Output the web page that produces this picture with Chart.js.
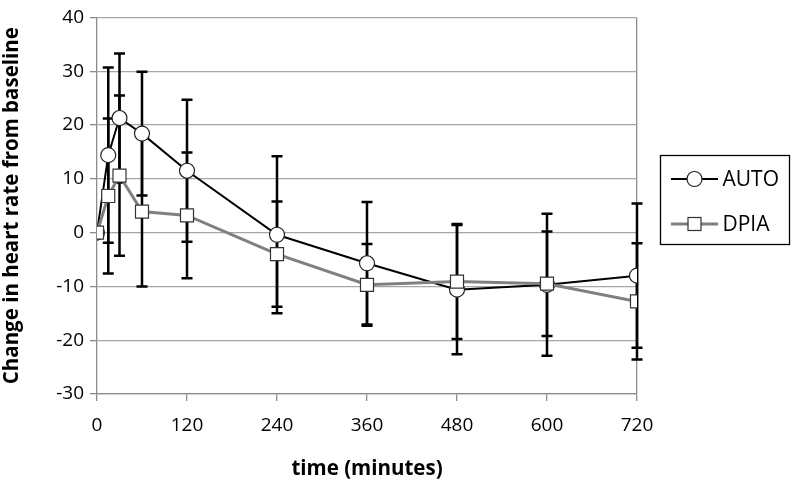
<!DOCTYPE html>
<html>
<head>
<meta charset="utf-8">
<script src="https://cdn.jsdelivr.net/npm/chart.js@4/dist/chart.umd.min.js"></script>
<style>
  html, body { margin: 0; padding: 0; background: #fff; }
  #wrap { width: 792px; height: 484px; }
</style>
</head>
<body>
<div id="wrap"><canvas id="myChart" width="792" height="484"></canvas></div>
<script>
// tiempos en minutos
var times = [0, 15, 30, 60, 120, 240, 360, 480, 600, 720]
var autoMean = [0, 14.4, 21.3, 18.4, 11.5, -0.4, -5.7, -10.6, -9.7, -8.0]
var autoErr = [0, 16.3, 12.0, 11.5, 13.2, 14.6, 11.4, 12.0, 13.2, 13.4]
var dpiaMean = [0, 6.8, 10.6, 3.9, 3.2, -4.0, -9.7, -9.1, -9.5, -12.8]
var dpiaErr = [0, 14.4, 14.9, 13.9, 11.7, 9.8, 7.6, 10.7, 9.7, 10.8]
var seriesNames = ['AUTO', 'DPIA']
var xTicks = [0, 120, 240, 360, 480, 600, 720]
var yTicks = [-30, -20, -10, 0, 10, 20, 30, 40]

var fuente = '"Open Sans", Lato, sans-serif'

function puntos(xs, ys) {
    var out = []
    for (var i = 0; i < xs.length; i++) {
        out.push({ x: xs[i], y: ys[i] })
    }
    return out
}

// barras de error, se dibujan antes de las lineas
const errorBars = {
    id: 'errorBars',
    beforeDatasetsDraw(chart) {
        var ctx = chart.ctx
        var xs = chart.scales.x
        var ys = chart.scales.y
        var errs = [autoErr, dpiaErr]
        var means = [autoMean, dpiaMean]
        ctx.save()
        ctx.strokeStyle = '#000'
        ctx.lineWidth = 2.5
        for (var s = 0; s < 2; s++) {
            for (var i = 0; i < times.length; i++) {
                if (errs[s][i] == 0) continue
                var px = xs.getPixelForValue(times[i])
                var top = ys.getPixelForValue(means[s][i] + errs[s][i])
                var bot = ys.getPixelForValue(means[s][i] - errs[s][i])
                ctx.beginPath()
                ctx.moveTo(px, top)
                ctx.lineTo(px, bot)
                ctx.moveTo(px - 5.5, top)
                ctx.lineTo(px + 5.5, top)
                ctx.moveTo(px - 5.5, bot)
                ctx.lineTo(px + 5.5, bot)
                ctx.stroke()
            }
        }
        ctx.restore()
    }
}

// leyenda con recuadro a la derecha
const legendBox = {
    id: 'legendBox',
    afterDraw(chart) {
        var ctx = chart.ctx
        var area = chart.chartArea
        var bx = area.right + 23.5
        var by = 155.5
        ctx.save()
        ctx.strokeStyle = '#000'
        ctx.lineWidth = 1.3
        ctx.strokeRect(bx, by, 129, 89)
        var ds = chart.data.datasets
        for (var i = 0; i < ds.length; i++) {
            var cy = by + 23.5 + i * 45
            ctx.strokeStyle = ds[i].borderColor
            ctx.lineWidth = ds[i].borderWidth
            ctx.beginPath()
            ctx.moveTo(bx + 10.5, cy)
            ctx.lineTo(bx + 57.5, cy)
            ctx.stroke()
            ctx.fillStyle = '#fff'
            ctx.strokeStyle = ds[i].pointBorderColor
            ctx.lineWidth = 1.2
            if (ds[i].pointStyle == 'circle') {
                ctx.beginPath()
                ctx.arc(bx + 34, cy, 7.5, 0, Math.PI * 2)
                ctx.fill()
                ctx.stroke()
            } else {
                ctx.fillRect(bx + 27.5, cy - 6.5, 13, 13)
                ctx.strokeRect(bx + 27.5, cy - 6.5, 13, 13)
            }
            ctx.fillStyle = '#000'
            ctx.font = '21px ' + fuente
            ctx.textBaseline = 'middle'
            ctx.textAlign = 'left'
            ctx.fillText(ds[i].label, bx + 62, cy + 1)
        }
        ctx.restore()
    }
}

const config = {
    type: 'line',
    data: {
        datasets: [{
            label: seriesNames[0],
            data: puntos(times, autoMean),
            borderColor: '#000',
            borderWidth: 2,
            pointStyle: 'circle',
            pointRadius: 7.5,
            pointBackgroundColor: '#fff',
            pointBorderColor: '#222',
            pointBorderWidth: 1.2,
            order: 2
        }, {
            label: seriesNames[1],
            data: puntos(times, dpiaMean),
            borderColor: '#808080',
            borderWidth: 3,
            pointStyle: 'rect',
            pointRadius: 9.2,
            pointBackgroundColor: '#fff',
            pointBorderColor: '#333',
            pointBorderWidth: 1.2,
            order: 1
        }]
    },
    options: {
        responsive: false,
        animation: false,
        layout: { padding: { top: 12, right: 155, left: 0, bottom: 0 } },
        plugins: {
            legend: { display: false },
            tooltip: { enabled: false }
        },
        scales: {
            x: {
                type: 'linear',
                min: 0,
                max: 720,
                afterBuildTicks: function (scale) {
                    scale.ticks = xTicks.map(function (v) { return { value: v } })
                },
                afterFit: function (scale) { scale.height = 90 },
                ticks: {
                    color: '#000',
                    font: { family: fuente, size: 19 },
                    padding: 13,
                    maxRotation: 0
                },
                grid: {
                    color: function (c) { return c.tick && c.tick.value == 720 ? '#8c8c8c' : 'rgba(0,0,0,0)' },
                    tickColor: '#8c8c8c',
                    tickLength: 7,
                    lineWidth: 1.3
                },
                border: { color: '#8c8c8c', width: 1.3 },
                title: {
                    display: true,
                    text: 'time (minutes)',
                    color: '#000',
                    font: { family: fuente, size: 20.5, weight: 'bold' },
                    padding: { top: 0, bottom: 3 }
                }
            },
            y: {
                min: -30,
                max: 40,
                afterBuildTicks: function (scale) {
                    scale.ticks = yTicks.map(function (v) { return { value: v } })
                },
                afterFit: function (scale) { scale.width = 97 },
                ticks: {
                    color: '#000',
                    font: { family: fuente, size: 19 },
                    padding: 6
                },
                grid: {
                    color: '#a6a6a6',
                    tickColor: '#8c8c8c',
                    tickLength: 7,
                    lineWidth: 1.3
                },
                border: { color: '#8c8c8c', width: 1.3 },
                title: {
                    display: true,
                    text: 'Change in heart rate from baseline',
                    color: '#000',
                    font: { family: fuente, size: 20.5, weight: 'bold' },
                    padding: { top: 0, bottom: 0 }
                }
            }
        }
    },
    plugins: [errorBars, legendBox]
}

const myChart = new Chart(document.getElementById('myChart'), config)
</script>
</body>
</html>
